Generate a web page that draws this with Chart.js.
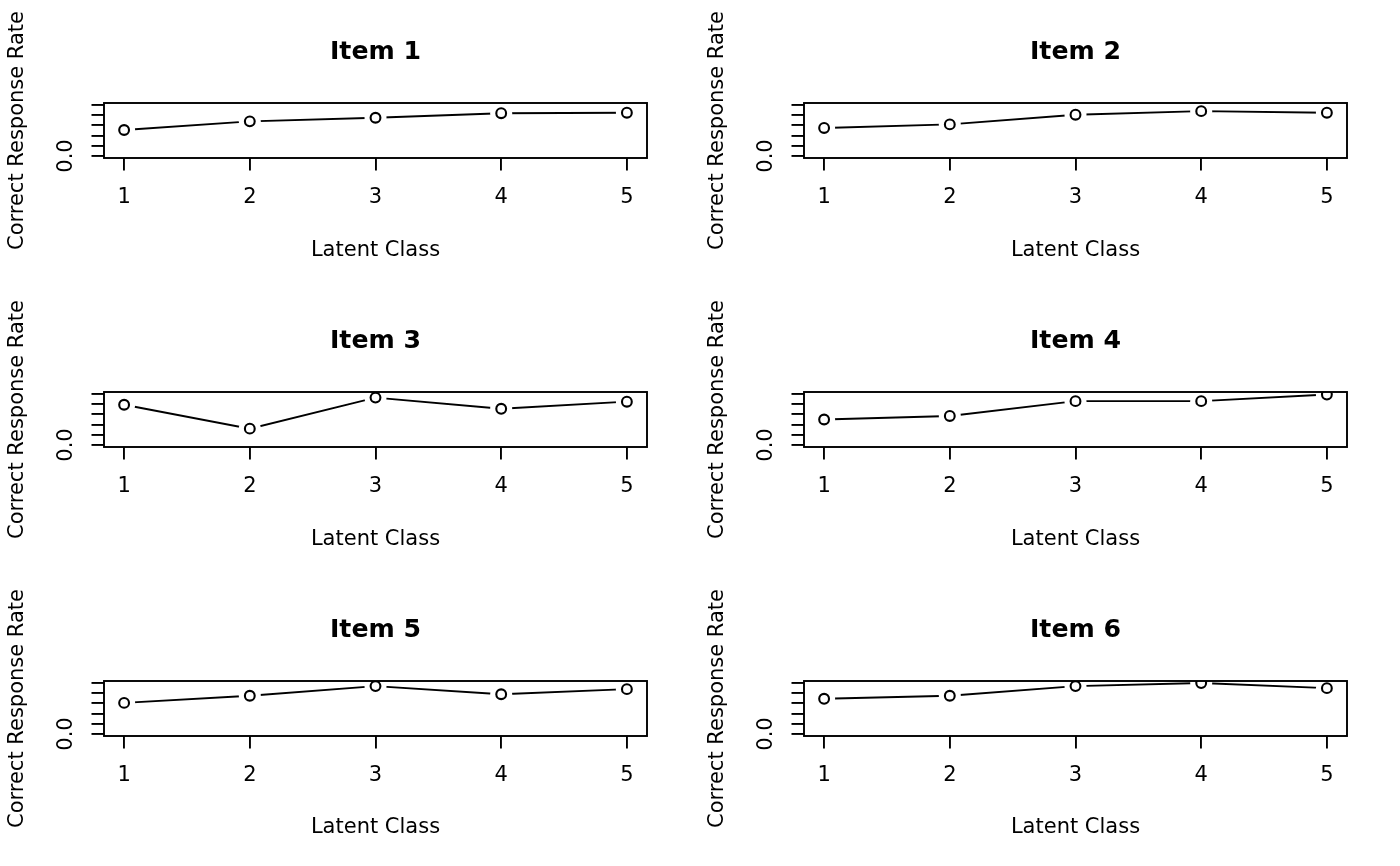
<!DOCTYPE html>
<html><head><meta charset="utf-8">
<script src="https://cdn.jsdelivr.net/npm/chart.js@4"></script>
<style>
html,body{margin:0;padding:0;background:#fff;}
#wrap{position:relative;width:1400px;height:866px;overflow:hidden;background:#fff;}
canvas{position:absolute;}
</style></head><body><div id="wrap"></div>
<script>
// ---- data ----
const latentClasses = [1, 2, 3, 4, 5];
const xTickLabels = ['1', '2', '3', '4', '5'];
const yTickValues = [0, 0.2, 0.4, 0.6, 0.8, 1.0];
const yTickLabel = '0.0';
const itemTitles = ['Item 1', 'Item 2', 'Item 3', 'Item 4', 'Item 5', 'Item 6'];
const item1Rates = [0.51, 0.68, 0.75, 0.84, 0.85];
const item2Rates = [0.55, 0.62, 0.81, 0.88, 0.85];
const item3Rates = [0.79, 0.32, 0.93, 0.71, 0.85];
const item4Rates = [0.50, 0.57, 0.86, 0.86, 0.99];
const item5Rates = [0.61, 0.75, 0.94, 0.78, 0.88];
const item6Rates = [0.69, 0.75, 0.94, 1.00, 0.90];
const xAxisTitle = 'Latent Class';
const yAxisTitle = 'Correct Response Rate';

// ---- drawing ----
const FONT = 'DejaVu Sans';
const FS = 21;
const LW = 1.9;
const wrap = document.getElementById('wrap');
const series = [item1Rates, item2Rates, item3Rates, item4Rates, item5Rates, item6Rates];

const framePlugin = {
  id: 'rframe',
  afterDraw(chart) {
    const {ctx, chartArea: a} = chart;
    ctx.save();
    ctx.strokeStyle = '#000';
    ctx.lineWidth = LW;
    ctx.strokeRect(a.left, a.top, a.right - a.left, a.bottom - a.top);
    const y0 = chart.scales.y.getPixelForValue(yTickValues[0]);
    ctx.translate(66.4, y0);
    ctx.rotate(-Math.PI / 2);
    ctx.font = FS + 'px "' + FONT + '"';
    ctx.textAlign = 'center';
    ctx.textBaseline = 'middle';
    ctx.fillStyle = '#000';
    ctx.fillText(yTickLabel, 0, 0);
    ctx.restore();
  }
};

series.forEach((vals, i) => {
  const col = i % 2, row = Math.floor(i / 2);
  const top = row * 289;
  const h = row === 2 ? 288 : 289;
  const c = document.createElement('canvas');
  c.width = 700; c.height = h;
  c.style.left = (col * 700) + 'px';
  c.style.top = top + 'px';
  c.style.width = '700px'; c.style.height = h + 'px';
  wrap.appendChild(c);
  const pts = latentClasses.map((x, j) => ({x: x, y: vals[j]}));
  new Chart(c, {
    type: 'line',
    data: {
      datasets: [
        {data: pts, showLine: false, pointStyle: 'circle', pointRadius: 4.9, pointBorderWidth: 2.1,
         pointBorderColor: '#000', pointBackgroundColor: 'rgba(0,0,0,0)'},
        {data: pts, showLine: false, pointStyle: 'circle', pointRadius: 11, pointBorderWidth: 0,
         pointBorderColor: '#fff', pointBackgroundColor: '#fff'},
        {data: pts, showLine: true, borderColor: '#000', borderWidth: LW, pointRadius: 0, tension: 0, fill: false}
      ]
    },
    options: {
      responsive: false,
      animation: false,
      events: [],
      devicePixelRatio: 1,
      layout: {padding: {left: 0, right: 53, top: 0, bottom: 0}},
      plugins: {
        legend: {display: false},
        tooltip: {enabled: false},
        title: {display: true, text: itemTitles[i], fullSize: false, color: '#000',
                font: {family: FONT, size: 25.2, weight: 'bold'},
                padding: {top: 37.2, bottom: 35.56}}
      },
      scales: {
        x: {
          type: 'linear', min: 0.84, max: 5.16,
          afterBuildTicks: s => { s.ticks = latentClasses.map(v => ({value: v})); },
          afterFit: s => { s.height = h - 158; },
          grid: {display: true, drawOnChartArea: false, drawTicks: true, tickLength: 12.5, color: '#000', lineWidth: LW},
          border: {display: false},
          ticks: {color: '#000', font: {family: FONT, size: FS}, padding: 14.6, maxRotation: 0, minRotation: 0,
                  autoSkip: false, callback: (v) => xTickLabels[latentClasses.indexOf(v)]},
          title: {display: true, text: xAxisTitle, color: '#000', font: {family: FONT, size: FS},
                  padding: {top: 0, bottom: 25.8}}
        },
        y: {
          type: 'linear', min: -0.04, max: 1.04,
          afterBuildTicks: s => { s.ticks = yTickValues.map(v => ({value: v})); },
          afterFit: s => { s.width = 104; },
          grid: {display: true, drawOnChartArea: false, drawTicks: true, tickLength: 12.5, color: '#000', lineWidth: LW},
          border: {display: false},
          ticks: {display: false},
          title: {display: true, text: yAxisTitle, color: '#000', font: {family: FONT, size: FS},
                  padding: {top: 5.2, bottom: 0}}
        }
      }
    },
    plugins: [framePlugin]
  });
});
</script></body></html>
